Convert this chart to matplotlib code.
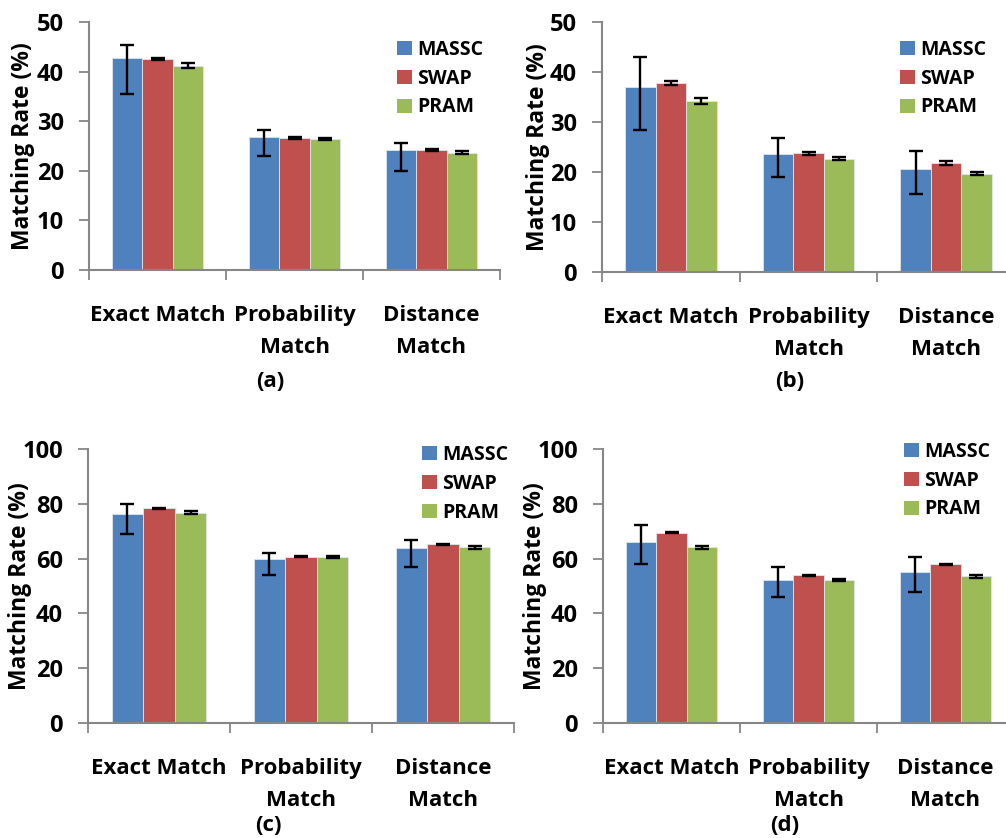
import matplotlib
matplotlib.use("Agg")
import matplotlib.pyplot as plt
from matplotlib.patches import Patch
import numpy as np

plt.rcParams['font.family'] = ['Open Sans', 'DejaVu Sans']
plt.rcParams['font.weight'] = 'bold'

categories = ["Exact Match", "Probability\nMatch", "Distance\nMatch"]
methods = ["MASSC", "SWAP", "PRAM"]
colors = ["#4F81BD", "#C0504D", "#9BBB59"]
panel_labels = ["(a)", "(b)", "(c)", "(d)"]

# values per panel, per method (3 categories each)
a_vals = {"MASSC": [42.75, 26.9, 24.2], "SWAP": [42.5, 26.6, 24.2], "PRAM": [41.2, 26.4, 23.6]}
a_lo = {"MASSC": [7.35, 3.95, 4.3], "SWAP": [0.2, 0.15, 0.2], "PRAM": [0.5, 0.2, 0.3]}
a_hi = {"MASSC": [2.65, 1.3, 1.4], "SWAP": [0.2, 0.15, 0.2], "PRAM": [0.5, 0.2, 0.3]}

b_vals = {"MASSC": [37.0, 23.6, 20.7], "SWAP": [37.9, 23.8, 21.8], "PRAM": [34.3, 22.7, 19.7]}
b_lo = {"MASSC": [8.5, 4.6, 5.1], "SWAP": [0.4, 0.3, 0.35], "PRAM": [0.6, 0.3, 0.35]}
b_hi = {"MASSC": [6.0, 3.15, 3.5], "SWAP": [0.4, 0.3, 0.35], "PRAM": [0.6, 0.3, 0.35]}

c_vals = {"MASSC": [76.3, 59.8, 63.8], "SWAP": [78.3, 60.7, 65.2], "PRAM": [76.8, 60.7, 64.1]}
c_lo = {"MASSC": [7.5, 5.8, 6.7], "SWAP": [0.2, 0.2, 0.2], "PRAM": [0.7, 0.3, 0.5]}
c_hi = {"MASSC": [3.8, 2.4, 2.9], "SWAP": [0.2, 0.2, 0.2], "PRAM": [0.7, 0.3, 0.5]}

d_vals = {"MASSC": [66.2, 52.1, 55.2], "SWAP": [69.5, 53.9, 57.9], "PRAM": [64.1, 52.1, 53.5]}
d_lo = {"MASSC": [8.2, 6.1, 7.4], "SWAP": [0.2, 0.2, 0.2], "PRAM": [0.5, 0.4, 0.4]}
d_hi = {"MASSC": [6.0, 4.7, 5.3], "SWAP": [0.2, 0.2, 0.2], "PRAM": [0.5, 0.4, 0.4]}

ymaxes = [50, 50, 100, 100]
ysteps = [10, 10, 20, 20]

W, H = 1006, 838
fig = plt.figure(figsize=(W / 100, H / 100), dpi=100)

def px_axes(left, right, top, bottom):
    return fig.add_axes([left / W, 1 - bottom / H, (right - left) / W, (bottom - top) / H])

# axes placements (px): left, right, top, bottom
boxes = [(89, 500, 22, 270), (602, 1015, 22, 272), (88, 514, 449, 723), (603, 1014, 449, 723)]
legend_pos = [(397, 40), (900, 40), (422, 445), (904, 442)]
ylabel_x = [23, 538, 20, 535]
plabel_pos = [(270, 381), (790, 381), (268, 825), (785, 825)]

panels = [(a_vals, a_lo, a_hi), (b_vals, b_lo, b_hi), (c_vals, c_lo, c_hi), (d_vals, d_lo, d_hi)]
gray = "#868686"
bw = 0.222
x = np.arange(len(categories)) + 0.5

for i, (vals, lo, hi) in enumerate(panels):
    ax = px_axes(*boxes[i])
    for j, m in enumerate(methods):
        xpos = x + (j - 1) * bw
        ax.bar(xpos, vals[m], width=bw, color=colors[j], edgecolor="#dfe6ef", linewidth=0.6,
               label=m, zorder=2)
        ax.errorbar(xpos, vals[m], yerr=[lo[m], hi[m]], fmt="none", ecolor="black",
                    elinewidth=1.7, capsize=5, capthick=1.7, zorder=3)
    ax.set_xlim(0, 3)
    ax.set_ylim(0, ymaxes[i])
    ax.set_yticks(np.arange(0, ymaxes[i] + 1, ysteps[i]))
    ax.set_xticks(x)
    ax.set_xticklabels(categories, fontsize=16, fontweight='bold', linespacing=1.68)
    ax.set_xticks([0, 1, 2, 3], minor=True)
    ax.tick_params(axis='x', which='major', length=0, pad=25)
    ax.tick_params(axis='x', which='minor', length=7, width=1.3, color=gray, direction='out')
    ax.tick_params(axis='y', length=7, width=1.3, color=gray, direction='out', pad=11,
                   labelsize=17)
    for lab in ax.get_yticklabels():
        lab.set_fontweight('bold')
    for s in ["top", "right"]:
        ax.spines[s].set_visible(False)
    for s in ["left", "bottom"]:
        ax.spines[s].set_color(gray)
        ax.spines[s].set_linewidth(1.5)
    ax.set_ylabel("Matching Rate (%)", fontsize=16.5, fontweight='bold')
    ax.yaxis.label.set_va('center')
    l, r, t, b = boxes[i]
    ax.yaxis.set_label_coords((ylabel_x[i] - l) / (r - l), 0.5)
    lx, ly = legend_pos[i]
    handles = [Patch(facecolor=c, edgecolor='none') for c in colors]
    leg = ax.legend(handles, methods, loc='upper left',
                    bbox_to_anchor=(lx / W, 1 - ly / H), bbox_transform=fig.transFigure,
                    frameon=False, fontsize=14, handlelength=0.75, handleheight=0.75,
                    handletextpad=0.3, labelspacing=0.45, borderaxespad=0, borderpad=0)
    for t_ in leg.get_texts():
        t_.set_fontweight('bold')
    px, py = plabel_pos[i]
    fig.text(px / W, 1 - py / H, panel_labels[i], ha='center', va='center',
             fontsize=16, fontweight='bold')

fig.savefig("out.png", dpi=100)
